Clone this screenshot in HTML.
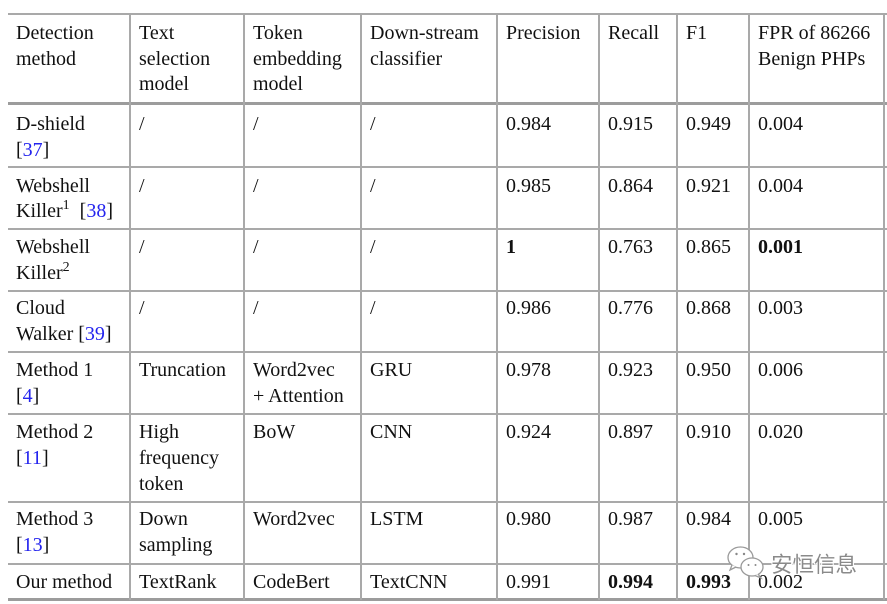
<!DOCTYPE html>
<html>
<head>
<meta charset="utf-8">
<style>
  html,body{margin:0;padding:0;background:#fff;}
  body{width:887px;height:604px;position:relative;overflow:hidden;
       font-family:"Liberation Serif","Times New Roman",serif;font-size:20px;color:#111;}
  .h{position:absolute;left:8px;right:0;height:2px;background:#a9a9a9;}
  .v{position:absolute;width:2px;background:#a9a9a9;}
  .t{position:absolute;line-height:25.7px;white-space:nowrap;}
  .c{color:#2424ee;}
  b{font-weight:bold;}
  .sup{font-size:14px;position:relative;top:-8px;line-height:0;}
  .wm{position:absolute;left:771px;top:549px;font-family:"Noto Sans CJK SC","WenQuanYi Zen Hei",sans-serif;
      font-size:21.5px;line-height:30px;color:#8a8a8a;letter-spacing:0px;
      text-shadow:1px 0 0 #fff,-1px 0 0 #fff,0 1px 0 #fff,0 -1px 0 #fff,1px 1px 0 #fff,-1px -1px 0 #fff,1px -1px 0 #fff,-1px 1px 0 #fff;}
</style>
</head>
<body>
<!-- horizontal lines -->
<div class="h" style="top:13px;"></div>
<div class="h" style="top:102px;height:3px;background:#9c9c9c;"></div>
<div class="h" style="top:166px;"></div>
<div class="h" style="top:228px;"></div>
<div class="h" style="top:290px;"></div>
<div class="h" style="top:351px;"></div>
<div class="h" style="top:413px;"></div>
<div class="h" style="top:501px;"></div>
<div class="h" style="top:563px;"></div>
<div class="h" style="top:598px;height:3px;background:#9c9c9c;"></div>

<!-- vertical lines -->
<div class="v" style="left:129px;top:13px;height:587px;"></div>
<div class="v" style="left:243px;top:13px;height:587px;"></div>
<div class="v" style="left:360px;top:13px;height:587px;"></div>
<div class="v" style="left:496px;top:13px;height:587px;"></div>
<div class="v" style="left:598px;top:13px;height:587px;"></div>
<div class="v" style="left:676px;top:13px;height:587px;"></div>
<div class="v" style="left:748px;top:13px;height:587px;"></div>
<div class="v" style="left:883px;top:13px;height:587px;"></div>

<!-- header -->
<div class="t" style="left:16px;top:21px;">Detection<br>method</div>
<div class="t" style="left:139px;top:21px;">Text<br>selection<br>model</div>
<div class="t" style="left:253px;top:21px;">Token<br>embedding<br>model</div>
<div class="t" style="left:370px;top:21px;">Down-stream<br>classifier</div>
<div class="t" style="left:506px;top:21px;">Precision</div>
<div class="t" style="left:608px;top:21px;">Recall</div>
<div class="t" style="left:686px;top:21px;">F1</div>
<div class="t" style="left:758px;top:21px;">FPR of 86266<br>Benign PHPs</div>

<!-- row 1 -->
<div class="t" style="left:16px;top:112px;">D-shield<br>[<span class="c">37</span>]</div>
<div class="t" style="left:139px;top:112px;">/</div>
<div class="t" style="left:253px;top:112px;">/</div>
<div class="t" style="left:370px;top:112px;">/</div>
<div class="t" style="left:506px;top:112px;">0.984</div>
<div class="t" style="left:608px;top:112px;">0.915</div>
<div class="t" style="left:686px;top:112px;">0.949</div>
<div class="t" style="left:758px;top:112px;">0.004</div>

<!-- row 2 -->
<div class="t" style="left:16px;top:173.7px;">Webshell<br>Killer<span class="sup">1</span> &nbsp;[<span class="c">38</span>]</div>
<div class="t" style="left:139px;top:173.7px;">/</div>
<div class="t" style="left:253px;top:173.7px;">/</div>
<div class="t" style="left:370px;top:173.7px;">/</div>
<div class="t" style="left:506px;top:173.7px;">0.985</div>
<div class="t" style="left:608px;top:173.7px;">0.864</div>
<div class="t" style="left:686px;top:173.7px;">0.921</div>
<div class="t" style="left:758px;top:173.7px;">0.004</div>

<!-- row 3 -->
<div class="t" style="left:16px;top:235.4px;">Webshell<br>Killer<span class="sup">2</span></div>
<div class="t" style="left:139px;top:235.4px;">/</div>
<div class="t" style="left:253px;top:235.4px;">/</div>
<div class="t" style="left:370px;top:235.4px;">/</div>
<div class="t" style="left:506px;top:235.4px;"><b>1</b></div>
<div class="t" style="left:608px;top:235.4px;">0.763</div>
<div class="t" style="left:686px;top:235.4px;">0.865</div>
<div class="t" style="left:758px;top:235.4px;"><b>0.001</b></div>

<!-- row 4 -->
<div class="t" style="left:16px;top:296.4px;">Cloud<br>Walker [<span class="c">39</span>]</div>
<div class="t" style="left:139px;top:296.4px;">/</div>
<div class="t" style="left:253px;top:296.4px;">/</div>
<div class="t" style="left:370px;top:296.4px;">/</div>
<div class="t" style="left:506px;top:296.4px;">0.986</div>
<div class="t" style="left:608px;top:296.4px;">0.776</div>
<div class="t" style="left:686px;top:296.4px;">0.868</div>
<div class="t" style="left:758px;top:296.4px;">0.003</div>

<!-- row 5 -->
<div class="t" style="left:16px;top:358px;">Method 1<br>[<span class="c">4</span>]</div>
<div class="t" style="left:139px;top:358px;">Truncation</div>
<div class="t" style="left:253px;top:358px;">Word2vec<br>+ Attention</div>
<div class="t" style="left:370px;top:358px;">GRU</div>
<div class="t" style="left:506px;top:358px;">0.978</div>
<div class="t" style="left:608px;top:358px;">0.923</div>
<div class="t" style="left:686px;top:358px;">0.950</div>
<div class="t" style="left:758px;top:358px;">0.006</div>

<!-- row 6 -->
<div class="t" style="left:16px;top:420.4px;">Method 2<br>[<span class="c">11</span>]</div>
<div class="t" style="left:139px;top:420.4px;">High<br>frequency<br>token</div>
<div class="t" style="left:253px;top:420.4px;">BoW</div>
<div class="t" style="left:370px;top:420.4px;">CNN</div>
<div class="t" style="left:506px;top:420.4px;">0.924</div>
<div class="t" style="left:608px;top:420.4px;">0.897</div>
<div class="t" style="left:686px;top:420.4px;">0.910</div>
<div class="t" style="left:758px;top:420.4px;">0.020</div>

<!-- row 7 -->
<div class="t" style="left:16px;top:507px;">Method 3<br>[<span class="c">13</span>]</div>
<div class="t" style="left:139px;top:507px;">Down<br>sampling</div>
<div class="t" style="left:253px;top:507px;">Word2vec</div>
<div class="t" style="left:370px;top:507px;">LSTM</div>
<div class="t" style="left:506px;top:507px;">0.980</div>
<div class="t" style="left:608px;top:507px;">0.987</div>
<div class="t" style="left:686px;top:507px;">0.984</div>
<div class="t" style="left:758px;top:507px;">0.005</div>

<!-- row 8 -->
<div class="t" style="left:16px;top:569.7px;">Our method</div>
<div class="t" style="left:139px;top:569.7px;">TextRank</div>
<div class="t" style="left:253px;top:569.7px;">CodeBert</div>
<div class="t" style="left:370px;top:569.7px;">TextCNN</div>
<div class="t" style="left:506px;top:569.7px;">0.991</div>
<div class="t" style="left:608px;top:569.7px;"><b>0.994</b></div>
<div class="t" style="left:686px;top:569.7px;"><b>0.993</b></div>
<div class="t" style="left:758px;top:569.7px;">0.002</div>

<!-- watermark -->
<svg style="position:absolute;left:724px;top:544px;" width="46" height="36" viewBox="0 0 46 36">
  <ellipse cx="16.5" cy="13.5" rx="12.5" ry="10.5" fill="#fff" stroke="#9a9a9a" stroke-width="1.3"/>
  <path d="M8 21 L6 26 L12 23" fill="#fff" stroke="#9a9a9a" stroke-width="1.3"/>
  <ellipse cx="28" cy="23" rx="11" ry="9" fill="#fff" stroke="#9a9a9a" stroke-width="1.3"/>
  <path d="M34 30 L37 34 L31 31.5" fill="#fff" stroke="#9a9a9a" stroke-width="1.3"/>
  <circle cx="12.5" cy="10" r="1.2" fill="#888"/>
  <circle cx="20" cy="10" r="1.2" fill="#888"/>
  <circle cx="24.5" cy="21" r="1" fill="#888"/>
  <circle cx="31.5" cy="21" r="1" fill="#888"/>
</svg>
<div class="wm">安恒信息</div>
</body>
</html>
